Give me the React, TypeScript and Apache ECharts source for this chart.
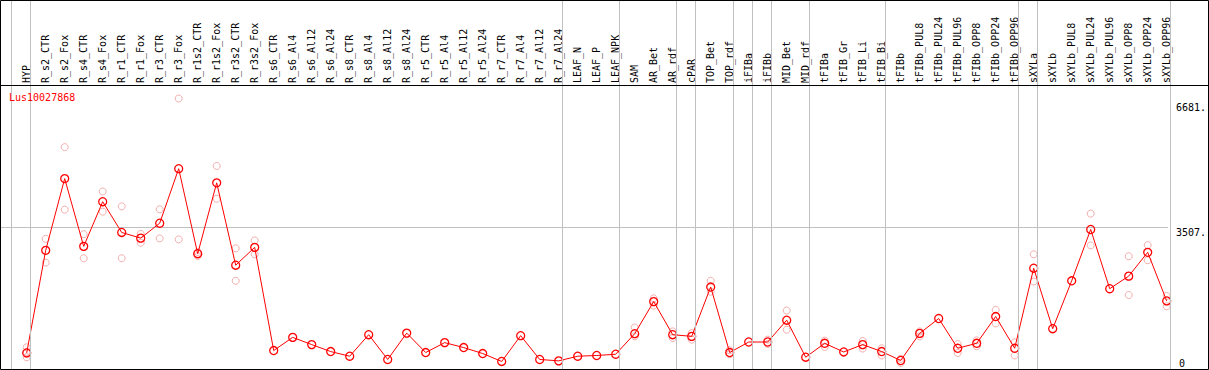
import React, { useEffect, useRef } from "react";
import * as echarts from "echarts";

const geneName = "Lus10027868";

const categories = [
  "HYP", "R_s2_CTR", "R_s2_Fox", "R_s4_CTR", "R_s4_Fox", "R_r1_CTR", "R_r1_Fox", "R_r3_CTR", "R_r3_Fox",
  "R_r1s2_CTR", "R_r1s2_Fox", "R_r3s2_CTR", "R_r3s2_Fox", "R_s6_CTR", "R_s6_Al4", "R_s6_Al12", "R_s6_Al24",
  "R_s8_CTR", "R_s8_Al4", "R_s8_Al12", "R_s8_Al24", "R_r5_CTR", "R_r5_Al4", "R_r5_Al12", "R_r5_Al24",
  "R_r7_CTR", "R_r7_Al4", "R_r7_Al12", "R_r7_Al24", "LEAF_N", "LEAF_P", "LEAF_NPK", "SAM", "AR_Bet", "AR_rdf",
  "cPAR", "TOP_Bet", "TOP_rdf", "iFIBa", "iFIBb", "MID_Bet", "MID_rdf", "tFIBa", "tFIB_Gr", "tFIB_Li", "tFIB_Bi",
  "tFIBb", "tFIBb_PUL8", "tFIBb_PUL24", "tFIBb_PUL96", "tFIBb_OPP8", "tFIBb_OPP24", "tFIBb_OPP96", "sXYLa",
  "sXYLb", "sXYLb_PUL8", "sXYLb_PUL24", "sXYLb_PUL96", "sXYLb_OPP8", "sXYLb_OPP24", "sXYLb_OPP96",
];

const meanValues = [
  420, 2945, 4711, 3043, 4142, 3385, 3245, 3612, 4955, 2862,
  4606, 2579, 3018, 479, 803, 625, 454, 339, 869, 259,
  908, 430, 674, 552, 405, 210, 845, 259, 225, 339,
  357, 388, 894, 1683, 869, 828, 2042, 430, 689, 689,
  1226, 315, 657, 444, 625, 454, 234, 901, 1267, 535,
  657, 1316, 535, 2505, 1016, 2195, 3458, 2000, 2310, 2896, 1700,
];

const repHigh: (number | null)[] = [
  559, 3228, 5485, 3343, 4393, 4027, 3350, 3954, 6681, 2904,
  5021, 2994, 3189, null, null, null, null, null, null, null,
  null, null, null, null, null, null, null, null, null, null,
  null, null, 1048, 1763, 950, 908, 2195, 486, null, 747,
  1463, null, 723, null, 713, 535, 274, 950, null, 640,
  730, 1480, 681, 2847, null, null, 3849, null, 2799, 3074, 1822,
];

const repLow: (number | null)[] = [
  315, 2642, 3946, 2750, 3897, 2750, 3131, 3238, 3214, 2806,
  4215, 2195, 2847, null, null, null, null, null, null, null,
  null, null, null, null, null, null, null, null, null, null,
  null, null, 828, 1585, 786, 747, 1927, 388, null, 640,
  991, null, 567, null, 527, 357, 176, 828, null, 420,
  584, 1145, 357, 2178, null, null, 3067, null, 1846, 2701, 1568,
];

const repMid: (number | null)[] = categories.map((_, i) => (i === 0 ? 444 : null));

// group separators: boundary before category index
const groupBreaks = [0, 1, 29, 32, 35, 36, 38, 39, 40, 42, 46, 53, 54, 61];

const axisMax = 7014;
const midTick = 3507;
const maxTick = 6681;

const FONT = "'DejaVu Sans Mono', monospace";

export default function App() {
  const ref = useRef<HTMLDivElement>(null);
  useEffect(() => {
    document.body.style.margin = "0";
    const chart = echarts.init(ref.current!, null, { renderer: "svg" });
    const plotTop = 85;
    const plotHeight = 287;
    const hiddenX = (g: number) => ({ gridIndex: g, type: "value", show: false, min: 0, max: 1 });
    const labelAxis = (
      g: number,
      interval: number,
      target: number,
      text: string,
      vAlign: string,
      lineHeight: number,
      split: boolean
    ) => ({
      gridIndex: g,
      type: "value",
      min: 0,
      max: axisMax,
      interval,
      position: "right",
      axisLine: { show: false },
      axisTick: { show: false },
      splitLine: { show: split, lineStyle: { color: "#c0c0c0", width: 1 } },
      axisLabel: {
        show: true,
        showMinLabel: true,
        showMaxLabel: true,
        margin: 8,
        fontSize: 10,
        fontFamily: FONT,
        color: "#000",
        verticalAlign: vAlign,
        lineHeight,
        formatter: (v: number) => (v === target ? text : ""),
      },
    });
    const hollow = (data: (number | null)[], color: string, size: number, width: number) => ({
      type: "scatter",
      xAxisIndex: 0,
      yAxisIndex: 0,
      data: data.map((v) => (v == null ? "-" : v)),
      symbol: "circle",
      symbolSize: size,
      itemStyle: { color: "rgba(0,0,0,0)", borderColor: color, borderWidth: width },
      z: 2,
      silent: true,
    });
    chart.setOption({
      animation: false,
      backgroundColor: "#fff",
      title: {
        text: geneName,
        left: 9,
        top: 92,
        padding: 0,
        textStyle: { color: "#ff0000", fontSize: 10, fontFamily: FONT, fontWeight: "normal" },
      },
      grid: [
        { left: 17.2, top: plotTop, width: 1159, height: plotHeight },
        { left: 0, top: plotTop, width: 1171, height: plotHeight },
        { left: 0, top: plotTop, width: 1171, height: plotHeight },
        { left: 0, top: plotTop, width: 1171, height: plotHeight },
        { left: 11.5, top: 0, width: 1159, height: 370 },
      ],
      xAxis: [
        {
          gridIndex: 0,
          type: "category",
          data: categories,
          position: "top",
          boundaryGap: true,
          axisLine: { show: false },
          axisTick: { show: false },
          splitLine: { show: false },
          axisLabel: { interval: 0, rotate: 90, margin: 2, fontSize: 10, fontFamily: FONT, color: "#000" },
        },
        hiddenX(1),
        hiddenX(2),
        hiddenX(3),
        { gridIndex: 4, type: "value", show: false, min: 0, max: 61 },
      ],
      yAxis: [
        { gridIndex: 0, type: "value", min: 0, max: axisMax, show: false },
        labelAxis(1, midTick, midTick, midTick + ".", "top", 9, true),
        labelAxis(2, midTick, 0, "0", "bottom", 13, false),
        labelAxis(3, maxTick, maxTick, maxTick + ".", "top", 18, false),
        { gridIndex: 4, type: "value", min: 0, max: 1, show: false },
      ],
      series: [
        {
          type: "line",
          xAxisIndex: 4,
          yAxisIndex: 4,
          data: [[0, -1]],
          showSymbol: false,
          lineStyle: { width: 0 },
          z: 0,
          silent: true,
          markLine: {
            silent: true,
            symbol: ["none", "none"],
            label: { show: false },
            lineStyle: { color: "#c0c0c0", type: "solid", width: 1 },
            data: groupBreaks.map((b) => ({ xAxis: b })),
          },
        },
        hollow(repHigh, "#f09a9a", 7, 1),
        hollow(repLow, "#f09a9a", 7, 1),
        hollow(repMid, "#f09a9a", 7, 1),
        {
          type: "line",
          xAxisIndex: 0,
          yAxisIndex: 0,
          data: meanValues,
          showAllSymbol: true,
          symbol: "circle",
          symbolSize: 8,
          lineStyle: { color: "#ff0000", width: 1 },
          itemStyle: { color: "rgba(0,0,0,0)", borderColor: "#ff0000", borderWidth: 1.3 },
          z: 3,
          silent: true,
        },
      ],
      graphic: [
        {
          type: "line",
          z: 100,
          silent: true,
          shape: { x1: 0, y1: 85.5, x2: 1209, y2: 85.5 },
          style: { stroke: "#000", lineWidth: 1 },
        },
        {
          type: "rect",
          z: 100,
          silent: true,
          shape: { x: 0.5, y: 0.5, width: 1208, height: 369 },
          style: { fill: "none", stroke: "#000", lineWidth: 1 },
        },
      ],
    });
    return () => chart.dispose();
  }, []);
  return <div ref={ref} style={{ width: 1209, height: 370 }} />;
}
